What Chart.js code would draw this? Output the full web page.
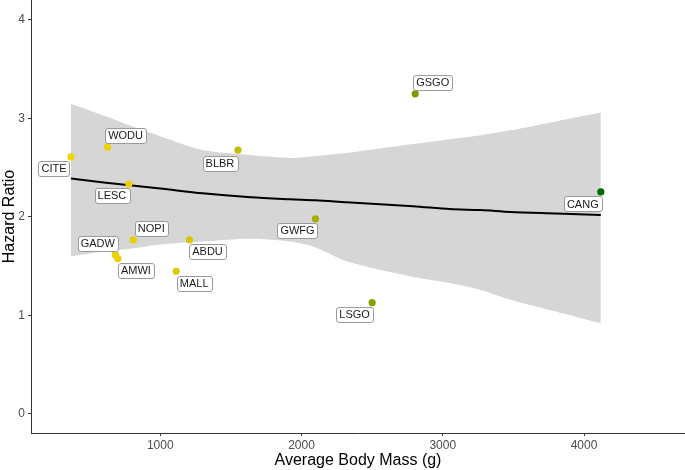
<!DOCTYPE html>
<html>
<head>
<meta charset="utf-8">
<script src="https://cdn.jsdelivr.net/npm/chart.js@4.4.1/dist/chart.umd.min.js"></script>
<style>
  html, body { margin: 0; padding: 0; background: #fff; }
  #wrap { width: 685px; height: 470px; }
</style>
</head>
<body>
<div id="wrap"><canvas id="hrChart" width="685" height="470"></canvas></div>
<script>
// ---------- DATA ----------
const species = ["CITE", "WODU", "LESC", "GADW", "AMWI", "NOPI", "MALL", "ABDU", "BLBR", "GWFG", "LSGO", "GSGO", "CANG"];
const bodyMass = [368, 627, 778, 682, 700, 809, 1113, 1207, 1550, 2099, 2500, 2805, 4119];
const hazardRatio = [2.61, 2.71, 2.335, 1.617, 1.577, 1.767, 1.449, 1.767, 2.68, 1.98, 1.13, 3.25, 2.254];

// smoothed fit and confidence band
const bandMass = [368, 600, 800, 1000, 1300, 1640, 1920, 2100, 2320, 2790, 3050, 3270, 3480, 3800, 4119];
const fitHR = [2.39, 2.35, 2.32, 2.29, 2.24, 2.20, 2.18, 2.17, 2.15, 2.11, 2.08, 2.07, 2.05, 2.035, 2.02];
const bandUpper = [3.15, 3.03, 2.92, 2.82, 2.68, 2.63, 2.60, 2.62, 2.65, 2.74, 2.79, 2.83, 2.88, 2.97, 3.06];
const bandLower = [1.60, 1.65, 1.68, 1.72, 1.75, 1.78, 1.75, 1.69, 1.55, 1.39, 1.33, 1.26, 1.16, 1.04, 0.92];

const xTicks = [1000, 2000, 3000, 4000];
const yTicks = [0, 1, 2, 3, 4];

// ---------- STYLE ----------
const pointColors = ["#f2d400", "#ecd100", "#ead000", "#ecd100", "#ebd000", "#e8cf00", "#dcc800", "#d8c600",
  "#c4bc00", "#a6ae00", "#88a200", "#7a9a00", "#006a00"];
// label placement: [dx, dy] from point to label centre
const labelNudge = {
  CITE: [-17, 12], WODU: [18, -11.5], LESC: [-17, 11.5], GADW: [-17.5, -11.5], AMWI: [18, 12],
  NOPI: [18, -11.5], MALL: [18, 12], ABDU: [18, 12], BLBR: [-18, 13], GWFG: [-18, 11.5],
  LSGO: [-17.5, 12], GSGO: [17.5, -11], CANG: [-18, 12]
};
const FONT = "'Liberation Sans', Arial, sans-serif";

const toXY = (xs, ys) => xs.map((x, i) => ({ x: x, y: ys[i] }));

const labelPlugin = {
  id: "speciesLabels",
  afterDatasetsDraw(chart) {
    const ctx = chart.ctx;
    const meta = chart.getDatasetMeta(0);
    ctx.save();
    ctx.font = "11px " + FONT;
    ctx.textAlign = "center";
    ctx.textBaseline = "middle";
    meta.data.forEach((pt, i) => {
      const name = species[i];
      const nudge = labelNudge[name] || [0, -12];
      const cx = pt.x + nudge[0];
      const cy = pt.y + nudge[1];
      const w = ctx.measureText(name).width + 6;
      const h = 15;
      ctx.beginPath();
      ctx.roundRect(Math.round(cx - w / 2) + 0.5, Math.round(cy - h / 2) + 0.5, Math.round(w), h, 2.5);
      ctx.fillStyle = "#ffffff";
      ctx.fill();
      ctx.strokeStyle = "#9a9a9a";
      ctx.lineWidth = 1;
      ctx.stroke();
      ctx.fillStyle = "#1a1a1a";
      ctx.fillText(name, cx, cy + 0.5);
    });
    ctx.restore();
  }
};

// no edge padding from tick labels, so the plot fills the canvas like the original
function fixBox(s, key, size) {
  s[key] = size;
  s.paddingTop = 0;
  s.paddingBottom = 0;
  s.paddingLeft = 0;
  s.paddingRight = 0;
}

// ---------- CHART ----------
const ctx = document.getElementById("hrChart").getContext("2d");

new Chart(ctx, {
  type: "scatter",
  data: {
    datasets: [
      {
        label: "Species",
        data: toXY(bodyMass, hazardRatio),
        pointBackgroundColor: pointColors,
        pointBorderWidth: 0,
        pointRadius: 3.6
      },
      {
        label: "Fit",
        data: toXY(bandMass, fitHR),
        showLine: true,
        borderColor: "#000000",
        borderWidth: 2,
        pointRadius: 0,
        tension: 0.3
      },
      {
        label: "Upper",
        data: toXY(bandMass, bandUpper),
        showLine: true,
        borderWidth: 0,
        borderColor: "rgba(0,0,0,0)",
        backgroundColor: "#d6d6d6",
        pointRadius: 0,
        tension: 0.3,
        fill: "+1"
      },
      {
        label: "Lower",
        data: toXY(bandMass, bandLower),
        showLine: true,
        borderWidth: 0,
        borderColor: "rgba(0,0,0,0)",
        pointRadius: 0,
        tension: 0.3
      }
    ]
  },
  options: {
    responsive: false,
    animation: false,
    events: [],
    layout: { padding: 0, autoPadding: false },
    plugins: {
      legend: { display: false },
      tooltip: { enabled: false }
    },
    scales: {
      x: {
        type: "linear",
        min: 85,
        max: 4715,
        afterBuildTicks: (s) => { s.ticks = xTicks.map(v => ({ value: v })); },
        afterFit: (s) => fixBox(s, "height", 37),
        grid: { drawOnChartArea: false, drawTicks: true, tickLength: 3, color: "#333333" },
        border: { display: true, color: "#333333", width: 1 },
        ticks: { color: "#4d4d4d", font: { size: 12, family: FONT }, padding: 2, maxRotation: 0,
          callback: (v) => String(v) },
        title: { display: true, text: "Average Body Mass (g)", color: "#000000", font: { size: 16, family: FONT }, padding: 0 }
      },
      y: {
        type: "linear",
        min: -0.193,
        max: 4.203,
        afterBuildTicks: (s) => { s.ticks = yTicks.map(v => ({ value: v })); },
        afterFit: (s) => fixBox(s, "width", 31),
        grid: { drawOnChartArea: false, drawTicks: true, tickLength: 3, color: "#333333" },
        border: { display: true, color: "#333333", width: 1 },
        ticks: { color: "#4d4d4d", font: { size: 12, family: FONT }, padding: 3,
          callback: (v) => String(v) },
        title: { display: true, text: "Hazard Ratio", color: "#000000", font: { size: 16, family: FONT }, padding: 0 }
      }
    }
  },
  plugins: [labelPlugin]
});
</script>
</body>
</html>
